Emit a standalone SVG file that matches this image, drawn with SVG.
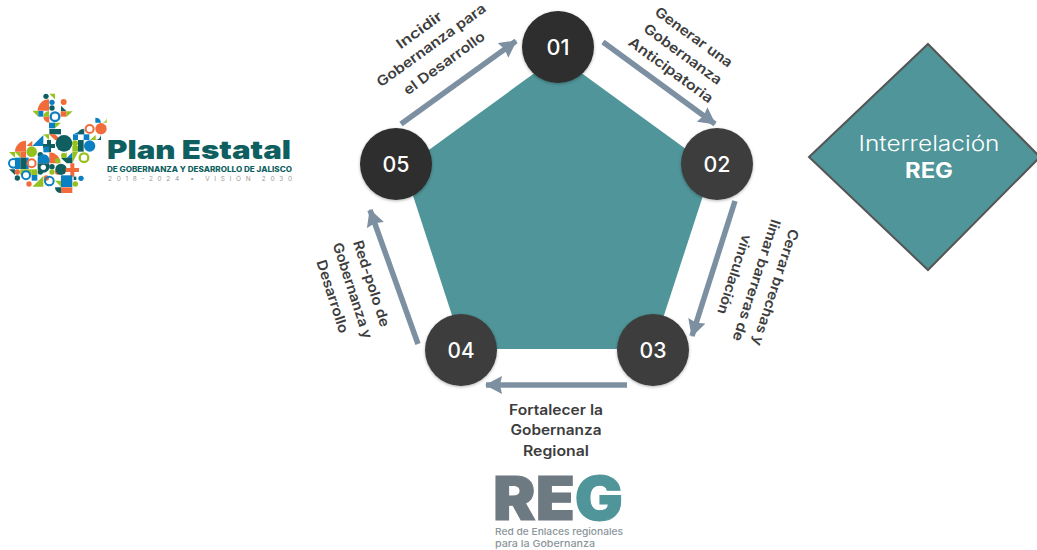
<svg xmlns="http://www.w3.org/2000/svg" width="1037" height="550" viewBox="0 0 1037 550">
<style>
text{font-family:"Inter","Liberation Sans",sans-serif}
.lab{font-size:14px;font-weight:600;fill:#3d3d3d;text-anchor:middle}
.num{font-size:21px;font-weight:500;fill:#fff;text-anchor:middle}
.arr{stroke:#7C90A1;stroke-width:5.5;fill:none;marker-end:url(#ah)}
.d{fill:#0F5F61}.o{fill:#F26B3A}.g{fill:#95C11F}.b{fill:#0A7FC1}
</style>
<defs>
<marker id="ah" markerUnits="userSpaceOnUse" markerWidth="20" markerHeight="20" refX="16" refY="9" orient="auto"><path d="M0,0L17,9L0,18L2,9Z" fill="#7C90A1"/></marker>
<filter id="sh" x="-20%" y="-20%" width="140%" height="140%"><feDropShadow dx="0" dy="1" stdDeviation="1.5" flood-color="#000" flood-opacity=".3"/></filter>
</defs>
<rect width="1037" height="550" fill="#fff"/>
<g id="logo-plan">
<g transform="translate(5,90) scale(.3333)">
<circle class="d" cx="123" cy="19" r="8"/><path class="g" d="M133,11H150V28Z"/><circle class="b" cx="141" cy="37" r="8"/><circle class="d" cx="141" cy="54" r="8"/>
<path class="o" d="M98,62A34,34 0 0 1 132,28V62Z"/><circle class="o" cx="176" cy="36" r="9"/><path class="d" d="M168,47L185,64H168Z"/>
<path class="g" d="M82,62H100V80Z"/><rect class="b" x="100" y="63" width="15" height="17"/><path class="g" d="M115,80A17,17 0 0 1 132,63V80Z"/>
<circle cx="150" cy="80" r="13" fill="none" stroke="#0A7FC1" stroke-width="7"/><rect class="o" x="167" y="64" width="18" height="16"/><path class="g" d="M185,64H203L185,80Z"/>
<path class="o" d="M115,80H133V98A18,18 0 0 1 115,80Z"/><path class="b" d="M132,98H150V115H132Z"/><path class="g" d="M150,98H168L150,115Z"/><rect class="d" x="133" y="117" width="35" height="16"/>
<path class="g" d="M115,133H132V150Z"/><path class="o" d="M132,133H150V150Z"/><path class="o" d="M150,150H168L150,133Z"/><path class="b" d="M82,168L115,135V168Z"/>
<path class="d" d="M126,150h12v12h12v12h-12v12h-12v-12h-12v-12h12Z"/><circle class="d" cx="177" cy="160" r="25"/>
<circle class="g" cx="210" cy="160" r="9"/><rect class="d" x="219" y="150" width="17" height="35"/><circle class="b" cx="254" cy="168" r="17"/><path class="b" d="M205,133L238,117V133Z"/><path class="d" d="M219,133A17,17 0 0 1 236,116V133Z"/><rect class="b" x="204" y="133" width="15" height="17"/><rect class="b" x="236" y="133" width="17" height="17"/>
<circle cx="254" cy="117" r="12" fill="none" stroke="#F26B3A" stroke-width="6"/><circle class="o" cx="288" cy="116" r="17"/><path class="b" d="M271,83A17,17 0 0 1 288,98L271,98Z"/><path class="g" d="M288,98A17,17 0 0 0 305,83V98Z"/>
<path class="g" d="M255,150H272V135Z"/><path class="d" d="M272,150A17,17 0 0 0 288,133V150Z"/>
<path class="o" d="M30,185A33,33 0 0 1 63,152V185Z"/><path class="o" d="M64,168L82,152V168Z"/><circle class="g" cx="80" cy="185" r="16"/><circle class="d" cx="106" cy="194" r="8"/><rect class="b" x="115" y="170" width="17" height="17"/><path class="g" d="M12,186H30V203Z"/><path class="g" d="M30,186H46V203Z"/><rect class="o" x="46" y="186" width="17" height="17"/>
<path class="o" d="M133,187A32,32 0 0 1 166,220H133Z"/><circle class="g" cx="176" cy="196" r="8"/><path class="g" d="M168,204L185,187V204Z"/><path class="b" d="M185,204L202,187V204Z"/><rect class="g" x="202" y="168" width="17" height="17"/><path class="g" d="M202,220V186H219Z"/>
<circle cx="237" cy="203" r="13" fill="none" stroke="#95C11F" stroke-width="7"/><path class="d" d="M168,204H202V220H185Z"/>
<circle cx="25" cy="220" r="13" fill="none" stroke="#0A7FC1" stroke-width="6"/><rect class="b" x="30" y="203" width="16" height="34"/><rect class="d" x="46" y="203" width="17" height="34"/><rect class="b" x="63" y="203" width="8" height="34"/><circle cx="80" cy="220" r="12" fill="none" stroke="#F26B3A" stroke-width="6"/>
<path class="b" d="M98,203A18,18 0 0 1 132,220H98Z"/><path class="d" d="M98,220H132A17,17 0 0 1 98,238Z"/><circle cx="115" cy="232" r="8" fill="#fff"/><circle class="d" cx="141" cy="230" r="8"/><circle class="g" cx="158" cy="212" r="8"/>
<path class="d" d="M12,238H30V255Z"/><circle class="o" cx="37" cy="246" r="8"/><circle class="d" cx="37" cy="264" r="8"/><rect class="g" x="46" y="238" width="34" height="17"/><circle cx="63" cy="256" r="12" fill="#fff" stroke="#0A7FC1" stroke-width="6"/>
<rect class="g" x="80" y="238" width="17" height="17"/><rect class="b" x="80" y="255" width="17" height="17"/><circle class="d" cx="106" cy="246" r="8"/><circle class="o" cx="124" cy="264" r="8"/><circle class="g" cx="141" cy="246" r="8"/><circle class="o" cx="158" cy="246" r="8"/><circle class="d" cx="168" cy="238" r="17"/>
<path class="o" d="M196,220h12v14h14v12h-14v14h-12v-14h-14v-12h14Z"/>
<rect class="b" x="168" y="256" width="34" height="35"/><rect class="o" x="168" y="292" width="34" height="17"/><path class="g" d="M150,272H168V290Z"/><path class="d" d="M150,292H168V309A17,17 0 0 1 150,292Z"/><rect class="d" x="206" y="260" width="8" height="10"/><circle class="b" cx="228" cy="265" r="8"/><circle class="g" cx="211" cy="282" r="8"/>
<circle cx="133" cy="273" r="13" fill="none" stroke="#0A7FC1" stroke-width="6"/><path class="g" d="M82,290L115,258V290Z"/><circle class="o" cx="72" cy="282" r="8"/>
</g>
<text x="107" y="159" font-size="26" font-weight="900" fill="#0F5F61" textLength="184" lengthAdjust="spacingAndGlyphs">Plan Estatal</text>
<text x="107" y="172" font-size="7" font-weight="800" fill="#0F5F61" textLength="185" lengthAdjust="spacingAndGlyphs">DE GOBERNANZA Y DESARROLLO DE JALISCO</text>
<text x="108" y="181" font-size="6.5" fill="#9a9a9a" textLength="184">2018-2024 • VISIÓN 2030</text>
</g>
<g id="pentagon"><polygon points="558,56 712,168 653,349 463,349 404,168" fill="#4F9599"/></g>
<g id="connectors">
<path class="arr" d="M401,124L516,41"/>
<path class="arr" d="M603,42L715,124"/>
<path class="arr" d="M735,201L692,336"/>
<path class="arr" d="M627,385L486,385"/>
<path class="arr" d="M418,344L370,210"/>
</g>
<g id="node-01"><circle cx="558" cy="47" r="36" fill="#2E2E2E" filter="url(#sh)"/><text class="num" x="558" y="55" textLength="23" lengthAdjust="spacingAndGlyphs">01</text></g>
<g id="node-02"><circle cx="717" cy="164" r="36" fill="#3E3E3E" filter="url(#sh)"/><text class="num" x="717" y="172" textLength="27" lengthAdjust="spacingAndGlyphs">02</text></g>
<g id="node-03"><circle cx="653" cy="350" r="36" fill="#3E3E3E" filter="url(#sh)"/><text class="num" x="653" y="358" textLength="27" lengthAdjust="spacingAndGlyphs">03</text></g>
<g id="node-04"><circle cx="461" cy="350" r="36" fill="#3E3E3E" filter="url(#sh)"/><text class="num" x="461" y="358" textLength="27" lengthAdjust="spacingAndGlyphs">04</text></g>
<g id="node-05"><circle cx="396" cy="164" r="36" fill="#2E2E2E" filter="url(#sh)"/><text class="num" x="396" y="172" textLength="27" lengthAdjust="spacingAndGlyphs">05</text></g>
<g id="labels">
<text class="lab" transform="translate(422,34) rotate(-36)" textLength="53" lengthAdjust="spacingAndGlyphs">Incidir</text>
<text class="lab" transform="translate(434,49) rotate(-36)" textLength="131" lengthAdjust="spacingAndGlyphs">Gobernanza para</text>
<text class="lab" transform="translate(447,67) rotate(-36)" textLength="97" lengthAdjust="spacingAndGlyphs">el Desarrollo</text>
<text class="lab" transform="translate(691,41) rotate(36)" textLength="92" lengthAdjust="spacingAndGlyphs">Generar una</text>
<text class="lab" transform="translate(680,58) rotate(36)" textLength="93" lengthAdjust="spacingAndGlyphs">Gobernanza</text>
<text class="lab" transform="translate(668,74) rotate(36)" textLength="101" lengthAdjust="spacingAndGlyphs">Anticipatoria</text>
<text class="lab" transform="translate(771,286) rotate(108)" textLength="122" lengthAdjust="spacingAndGlyphs">Cerrar brechas y</text>
<text class="lab" transform="translate(752,279) rotate(108)" textLength="127" lengthAdjust="spacingAndGlyphs">limar barreras de</text>
<text class="lab" transform="translate(730,273) rotate(108)" textLength="83" lengthAdjust="spacingAndGlyphs">vinculación</text>
<text class="lab" transform="translate(367,285) rotate(72)" textLength="90" lengthAdjust="spacingAndGlyphs">Red-polo de</text>
<text class="lab" transform="translate(348,292) rotate(72)" textLength="100" lengthAdjust="spacingAndGlyphs">Gobernanza y</text>
<text class="lab" transform="translate(328,298) rotate(72)" textLength="76" lengthAdjust="spacingAndGlyphs">Desarrollo</text>
<text class="lab" x="556" y="415" textLength="94" lengthAdjust="spacingAndGlyphs">Fortalecer la</text>
<text class="lab" x="556" y="435" textLength="91" lengthAdjust="spacingAndGlyphs">Gobernanza</text>
<text class="lab" x="556" y="456" textLength="66" lengthAdjust="spacingAndGlyphs">Regional</text>
</g>
<g id="logo-reg">
<text x="493" y="520" font-size="60" font-weight="900" fill="#6E7A82" stroke="#6E7A82" stroke-width="1" textLength="130" lengthAdjust="spacingAndGlyphs">RE<tspan fill="#4F9599" stroke="#4F9599">G</tspan></text>
<text x="495" y="535" font-size="9.5" font-weight="500" fill="#8A959B" textLength="128" lengthAdjust="spacingAndGlyphs">Red de Enlaces regionales</text>
<text x="495" y="547" font-size="9.5" font-weight="500" fill="#8A959B" textLength="100" lengthAdjust="spacingAndGlyphs">para la Gobernanza</text>
</g>
<g id="node-interrelacion">
<polygon points="928,44 1040,157 928,270 809,157" fill="#4F9599" stroke="#555" stroke-width="2"/>
<text x="929" y="151" font-size="21" font-weight="300" fill="#fff" text-anchor="middle" textLength="141" lengthAdjust="spacingAndGlyphs">Interrelación</text>
<text x="929" y="178" font-size="21" font-weight="700" fill="#fff" text-anchor="middle" textLength="48" lengthAdjust="spacingAndGlyphs">REG</text>
</g>
</svg>
